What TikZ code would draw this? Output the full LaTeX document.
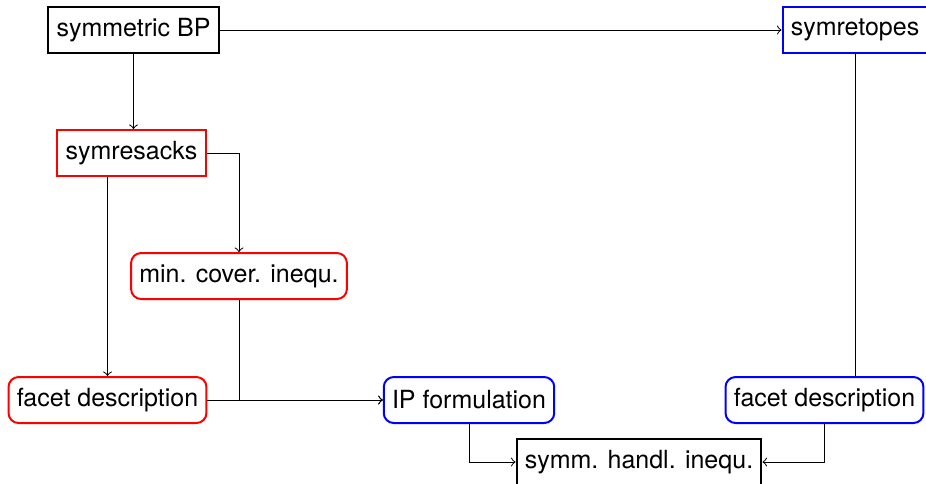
\documentclass[tikz,border=0pt]{standalone}
\usepackage{fontspec}
\setmainfont{TeX Gyre Heros}
\usepackage{tikz}
\usetikzlibrary{positioning}
\usetikzlibrary{arrows}
\tikzset {
  % boxed vertex style
  main/.style = {draw, thick, rectangle, inner xsep=3.3pt, minimum height=18.4pt},
  % boxes with rounded corners
  soft/.style = {main, rounded corners=4pt},
  % symresack and symretope branches
  sack/.style = {draw=red},
  tope/.style = {draw=blue},
}

\begin{document}
\begin{tikzpicture}[x=0.4pt, y=-0.4pt]
        \useasboundingbox (0,0) rectangle (926,483);
        \node[main] (1) at (133.5,30) {symmetric BP};
        \node[main, tope] (2) at (855,30) {symretopes};
        \node[main, sack] (3) at (131.5,153) {symresacks};
        \node[soft, sack] (4) at (239,276) {min. cover. inequ.};
        \node[soft, sack] (5) at (107.5,400) {facet description};
        \node[soft, tope] (6) at (469,400) {IP formulation};
        \node[soft, tope] (7) at (824.5,400) {facet description};
        \node[main] (8) at (639,462) {symm. handl. inequ.};

        \draw[->] (1) -- (2);
        \draw[->] (1) -- (1 |- 3.north);
        \draw[->] (3) -| (4);
        \draw[->] (3.south -| 5) -- (5);
        \draw[->] (5) -- (6);
        \draw[->] (4) |- (6);
        \draw (2) -- (2 |- 7.north);
        \draw[->] (6) |- (8);
        \draw[->] (7) |- (8);
      \end{tikzpicture}
\end{document}
